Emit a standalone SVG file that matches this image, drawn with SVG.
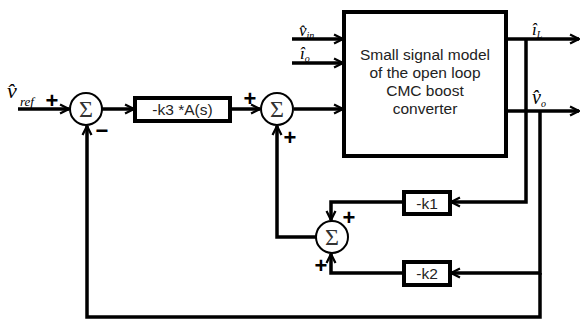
<svg xmlns="http://www.w3.org/2000/svg" width="581" height="320" viewBox="0 0 581 320">
<style>
.w{fill:none;stroke:#000;stroke-width:3.5;stroke-linejoin:miter}
.a{marker-end:url(#arr)}
.box{fill:#fff;stroke:#000;stroke-width:4}
.sum{fill:#fff;stroke:#000;stroke-width:2}
.sig{font-family:"Liberation Serif","DejaVu Serif",serif;font-size:24px;fill:#333;text-anchor:middle}
.lbl{font-family:"Liberation Sans",Arial,sans-serif;font-size:15.5px;fill:#222;text-anchor:middle}
.pm{font-family:"Liberation Sans",Arial,sans-serif;font-size:22px;font-weight:bold;fill:#000;text-anchor:middle}
.var{font-family:"Liberation Serif","DejaVu Serif",serif;font-style:italic;fill:#000}
</style>
<defs>
<marker id="arr" viewBox="0 0 10 10" refX="9" refY="5" markerWidth="3.2" markerHeight="3.2" markerUnits="strokeWidth" orient="auto">
<path d="M1,1 L9,5 L1,9" fill="none" stroke="#000" stroke-width="2"/>
</marker>
</defs>
<g id="connectors">
<path class="w a" d="M18,109 H69"/>
<path class="w a" d="M102,109 H134"/>
<path class="w a" d="M230,109 H260"/>
<path class="w a" d="M294,109 H343"/>
<path class="w a" d="M292,39 H343"/>
<path class="w a" d="M292,63 H343"/>
<path class="w a" d="M506,39 H579"/>
<path class="w a" d="M506,111 H579"/>
<path class="w a" d="M526,39 V202 H451"/>
<path class="w a" d="M540,111 V273 H451"/>
<path class="w a" d="M540,273 V317 H87 V126"/>
<path class="w a" d="M404,202 H331 V220"/>
<path class="w a" d="M404,273 H331 V254"/>
<path class="w a" d="M316,237 H277 V126"/>
</g>
<g id="sum1"><circle class="sum" cx="86" cy="109" r="16"/><text class="sig" x="86" y="117">Σ</text></g>
<g id="sum2"><circle class="sum" cx="277" cy="109" r="16"/><text class="sig" x="277" y="117">Σ</text></g>
<g id="sum3"><circle class="sum" cx="332" cy="237" r="16"/><text class="sig" x="332" y="245">Σ</text></g>
<g id="k3"><rect class="box" x="135" y="98" width="95" height="23"/><text class="lbl" x="182.5" y="115">-k3 *A(s)</text></g>
<g id="k1"><rect class="box" x="404" y="192" width="46" height="22"/><text class="lbl" x="427" y="208.5">-k1</text></g>
<g id="k2"><rect class="box" x="404" y="262" width="46" height="23"/><text class="lbl" x="427" y="279">-k2</text></g>
<g id="plant"><rect class="box" x="344" y="12" width="162" height="144"/>
<text class="lbl" x="425" y="60">Small signal model</text>
<text class="lbl" x="425" y="78">of the open loop</text>
<text class="lbl" x="425" y="96">CMC boost</text>
<text class="lbl" x="425" y="114">converter</text></g>
<g id="signs">
<text class="pm" x="52" y="108">+</text>
<text class="pm" x="102" y="138">−</text>
<text class="pm" x="250" y="106">+</text>
<text class="pm" x="290" y="145">+</text>
<text class="pm" x="349" y="225">+</text>
<text class="pm" x="321" y="273">+</text>
</g>
<g id="labels">
<text class="var" x="7" y="98" font-size="22">v̂</text>
<text class="var" x="20" y="106" font-size="13">ref</text>
<text class="var" x="299" y="36" font-size="17">v̂<tspan font-size="10" dy="3">in</tspan></text>
<text class="var" x="300" y="59" font-size="17">î<tspan font-size="10" dy="3">o</tspan></text>
<text class="var" x="532" y="35" font-size="17">î<tspan font-size="10" dy="3">L</tspan></text>
<text class="var" x="532" y="104" font-size="20">v̂<tspan font-size="10" dy="3">o</tspan></text>
</g>
</svg>
